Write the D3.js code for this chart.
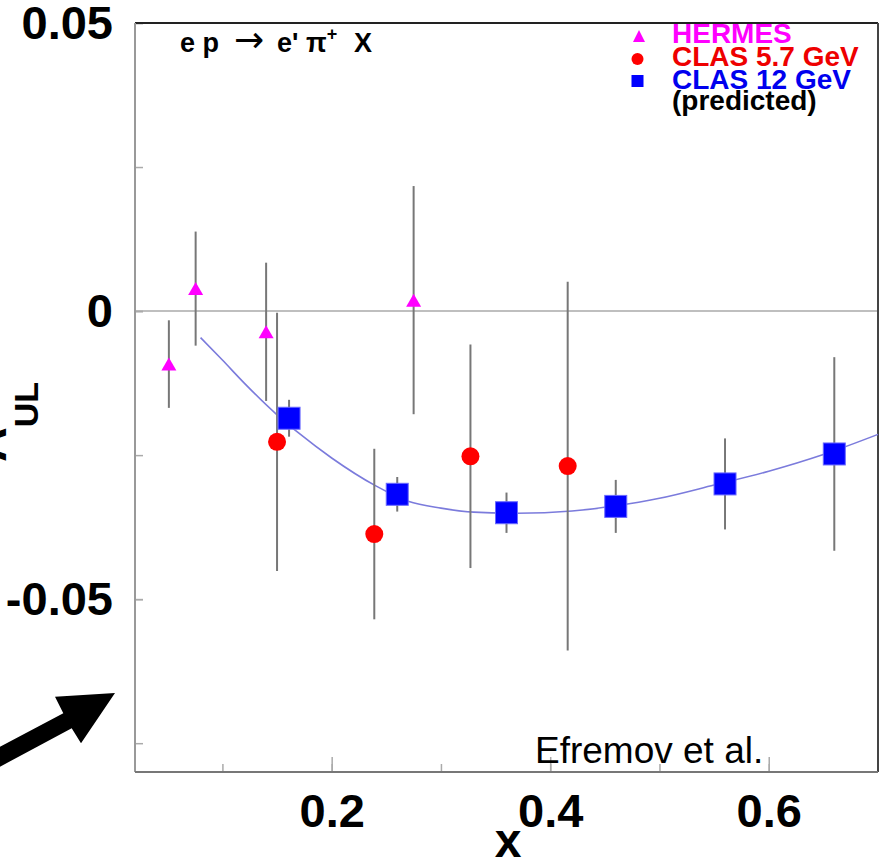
<!DOCTYPE html>
<html>
<head>
<meta charset="utf-8">
<script src="https://cdn.jsdelivr.net/npm/d3@7"></script>
<style>
  body { margin: 0; background: #fff; }
  text { font-family: "Liberation Sans", Arial, Helvetica, sans-serif; }
</style>
</head>
<body>
<div id="chart"></div>
<script>
// HERMES
var hermesX = [0.051, 0.0755, 0.140, 0.275];
var hermesY = [-0.0092, 0.0039, -0.0036, 0.0019];
var hermesErr = [0.0076, 0.0099, 0.0120, 0.0198];

// CLAS 5.7 GeV
var clas57X = [0.150, 0.239, 0.327, 0.416];
var clas57Y = [-0.0227, -0.0387, -0.0252, -0.0269];
var clas57Err = [0.0224, 0.0148, 0.0194, 0.0320];

// CLAS 12 GeV (predicted)
var clas12X = [0.161, 0.260, 0.360, 0.460, 0.560, 0.660];
var clas12Y = [-0.0186, -0.0318, -0.0350, -0.0339, -0.0300, -0.0248];
var clas12Err = [0.0032, 0.0030, 0.0035, 0.0046, 0.0079, 0.0168];

// theory curve (Efremov et al.)
var curveX = [0.08, 0.10, 0.12, 0.15, 0.17, 0.20, 0.24, 0.27, 0.30, 0.33, 0.37, 0.42, 0.46, 0.50, 0.55, 0.60, 0.65, 0.70];
var curveY = [-0.0046, -0.0085, -0.0125, -0.0180, -0.0212, -0.0255, -0.0303, -0.0330, -0.0342, -0.0349, -0.0351, -0.0347, -0.0338, -0.0325, -0.0302, -0.0278, -0.0249, -0.0214];

// ticks
var xTicks = [0.1, 0.2, 0.3, 0.4, 0.5, 0.6];
var xLabels = [0.2, 0.4, 0.6];
var yTicks = [-0.075, -0.05, -0.025, 0, 0.025, 0.05];
var yLabels = [-0.05, 0, 0.05];

var legendNames = ["HERMES", "CLAS 5.7 GeV", "CLAS 12 GeV"];
var legendColors = ["#ff00ff", "#ee0000", "#0000ee"];

var W = 884, H = 862;
var margin = {top: 23, right: 6, bottom: 90, left: 135};
var width = W - margin.left - margin.right,
    height = H - margin.top - margin.bottom;

var x = d3.scaleLinear().domain([0.02, 0.70]).range([0, width]);
var y = d3.scaleLinear().domain([-0.08, 0.05]).range([height, 0]);

var svg = d3.select("#chart").append("svg")
    .attr("width", W).attr("height", H);

// arrow annotation at lower left
svg.append("path")
    .attr("d", "M0,746.7 L63.3,713.3 L55,696.7 L115,693 L81,743.3 L71.7,728.3 L0,766.7 Z")
    .attr("fill", "#000");

var g = svg.append("g")
    .attr("transform", "translate(" + margin.left + "," + margin.top + ")");

// zero line
g.append("line")
    .attr("x1", 0).attr("x2", width)
    .attr("y1", y(0)).attr("y2", y(0))
    .attr("stroke", "#aaa").attr("stroke-width", 1.5);

// x axis: minor and major ticks pointing inward
var xMinor = g.append("g")
    .attr("transform", "translate(0," + height + ")")
    .call(d3.axisBottom(x).tickValues(xTicks).tickSize(-8).tickFormat(""));
var xMajor = g.append("g")
    .attr("transform", "translate(0," + height + ")")
    .call(d3.axisBottom(x).tickValues(xLabels).tickSize(-15).tickPadding(22)
        .tickFormat(d3.format(".1f")));

var yMinor = g.append("g")
    .call(d3.axisLeft(y).tickValues(yTicks).tickSize(-8).tickFormat(""));
var yMajor = g.append("g")
    .call(d3.axisLeft(y).tickValues(yLabels).tickSize(-8).tickPadding(22)
        .tickFormat(function(d) { return d === 0 ? "0" : d.toFixed(2); }));

[xMinor, xMajor, yMinor, yMajor].forEach(function(a) {
    a.select(".domain").remove();
    a.selectAll(".tick line").attr("stroke", "#aaa").attr("stroke-width", 1.5);
    a.selectAll(".tick text")
        .attr("fill", "#000")
        .style("font-size", "47px")
        .style("font-weight", "bold");
});

// frame
g.append("line").attr("x1", 0).attr("x2", width).attr("y1", 0).attr("y2", 0)
    .attr("stroke", "#222").attr("stroke-width", 2);
g.append("line").attr("x1", width).attr("x2", width).attr("y1", 0).attr("y2", height)
    .attr("stroke", "#444").attr("stroke-width", 2);
g.append("line").attr("x1", 0).attr("x2", 0).attr("y1", 0).attr("y2", height)
    .attr("stroke", "#999").attr("stroke-width", 2);
g.append("line").attr("x1", 0).attr("x2", width).attr("y1", height).attr("y2", height)
    .attr("stroke", "#777").attr("stroke-width", 2);

// theory curve
var curvePts = curveX.map(function(v, i) { return [v, curveY[i]]; });
g.append("path")
    .datum(curvePts)
    .attr("fill", "none")
    .attr("stroke", "#7b7bdc")
    .attr("stroke-width", 1.6)
    .attr("d", d3.line()
        .x(function(d) { return x(d[0]); })
        .y(function(d) { return y(d[1]); })
        .curve(d3.curveMonotoneX));

function series(xs, ys, errs) {
    return xs.map(function(v, i) { return {x: v, y: ys[i], e: errs[i]}; });
}
var hermes = series(hermesX, hermesY, hermesErr);
var clas57 = series(clas57X, clas57Y, clas57Err);
var clas12 = series(clas12X, clas12Y, clas12Err);

function errorBars(data) {
    g.append("g").selectAll("line")
        .data(data)
        .join("line")
        .attr("x1", function(d) { return x(d.x); })
        .attr("x2", function(d) { return x(d.x); })
        .attr("y1", function(d) { return y(d.y + d.e); })
        .attr("y2", function(d) { return y(d.y - d.e); })
        .attr("stroke", "#777")
        .attr("stroke-width", 2);
}
errorBars(hermes);
errorBars(clas57);
errorBars(clas12);

function triPath(w, h) {
    return "M0," + (-h / 2) + " L" + (w / 2) + "," + (h / 2) + " L" + (-w / 2) + "," + (h / 2) + " Z";
}

g.append("g").selectAll("path")
    .data(hermes)
    .join("path")
    .attr("transform", function(d) { return "translate(" + x(d.x) + "," + y(d.y) + ")"; })
    .attr("d", triPath(15, 13))
    .attr("fill", legendColors[0]);

g.append("g").selectAll("circle")
    .data(clas57)
    .join("circle")
    .attr("cx", function(d) { return x(d.x); })
    .attr("cy", function(d) { return y(d.y); })
    .attr("r", 9)
    .attr("fill", "#ff0000");

g.append("g").selectAll("rect")
    .data(clas12)
    .join("rect")
    .attr("x", function(d) { return x(d.x) - 11; })
    .attr("y", function(d) { return y(d.y) - 11; })
    .attr("width", 22).attr("height", 22)
    .attr("fill", "#0000ff")
    .attr("stroke", "#6a6aff").attr("stroke-width", 1);

// reaction label
var title = svg.append("text")
    .attr("y", 52)
    .style("font-size", "27px").style("font-weight", "bold")
    .attr("fill", "#000");
title.append("tspan").attr("x", 180).text("e p");
title.append("tspan").attr("x", 234)
    .style("font-family", "'DejaVu Sans'").style("font-weight", "normal")
    .style("font-size", "36px").text("\u2192");
title.append("tspan").attr("x", 277).text("e' \u03c0");
title.append("tspan").attr("dy", -12).style("font-size", "18px").text("+");
title.append("tspan").attr("dy", 12).attr("x", 354).text("X");

// legend
var legY = [43, 66, 89];
var leg = svg.append("g");
leg.append("path")
    .attr("transform", "translate(639,36)")
    .attr("d", triPath(12, 12))
    .attr("fill", legendColors[0]);
leg.append("circle").attr("cx", 637.5).attr("cy", 59).attr("r", 6).attr("fill", "#ff0000");
leg.append("rect").attr("x", 631.5).attr("y", 75).attr("width", 12).attr("height", 12).attr("fill", "#0000ff");
leg.selectAll("text.name")
    .data(legendNames)
    .join("text")
    .attr("class", "name")
    .attr("x", 672)
    .attr("y", function(d, i) { return legY[i]; })
    .attr("fill", function(d, i) { return legendColors[i]; })
    .style("font-size", "28px").style("font-weight", "bold")
    .text(function(d) { return d; });
leg.append("text")
    .attr("x", 672).attr("y", 110)
    .style("font-size", "28px").style("font-weight", "bold")
    .text("(predicted)");

svg.append("text")
    .attr("x", 535).attr("y", 763)
    .style("font-size", "37px")
    .text("Efremov et al.");

// axis titles
svg.append("text")
    .attr("x", 508).attr("y", 857)
    .attr("text-anchor", "middle")
    .style("font-size", "48px").style("font-weight", "bold")
    .text("x");

var ytitle = svg.append("text")
    .attr("transform", "translate(6,462) rotate(-90)")
    .style("font-weight", "bold");
ytitle.append("tspan").style("font-size", "48px").text("A");
ytitle.append("tspan").attr("dy", 32).style("font-size", "34px").text("UL");
</script>
</body>
</html>
